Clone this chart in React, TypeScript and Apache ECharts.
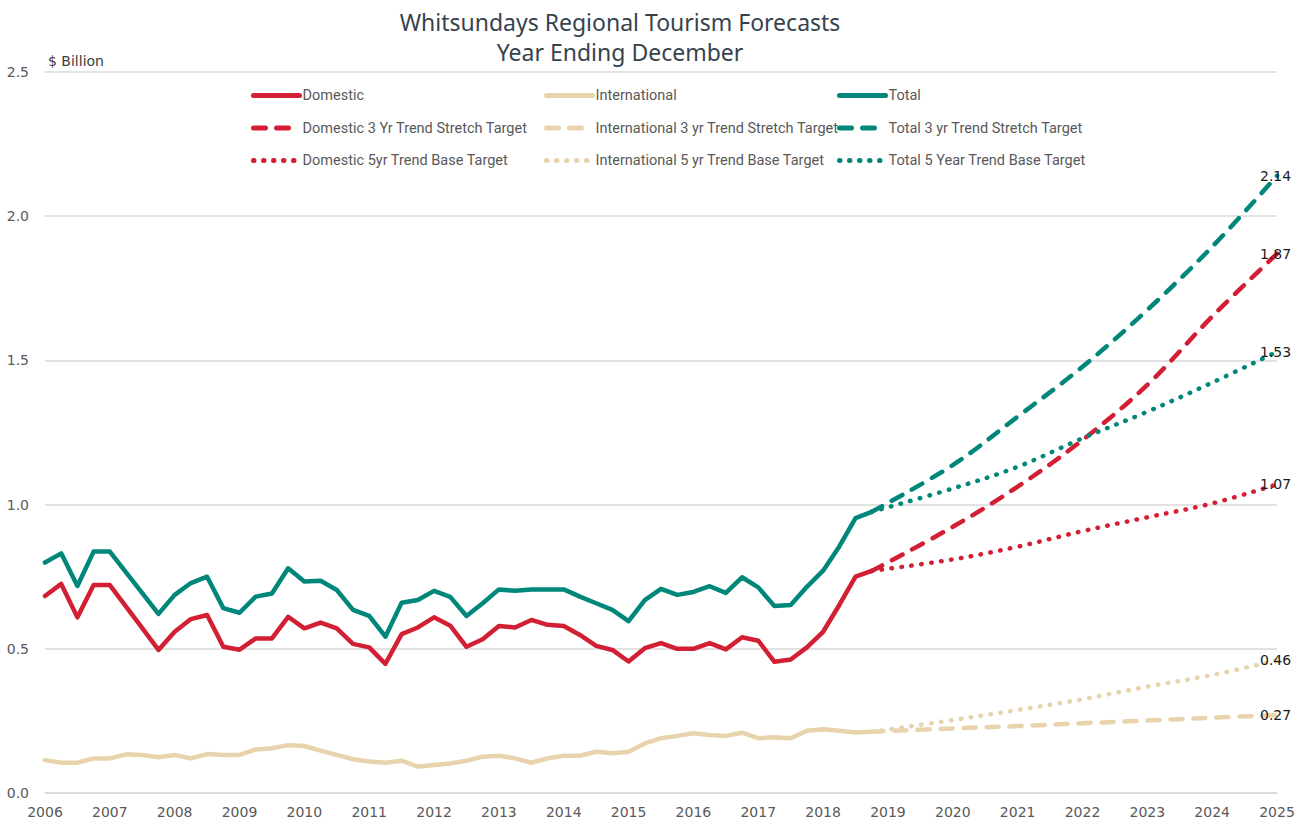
import React, { useEffect, useRef } from "react";
import * as echarts from "echarts";

// ---- tick labels / categories ----
const years = [
  "2006", "2007", "2008", "2009", "2010", "2011", "2012", "2013", "2014", "2015",
  "2016", "2017", "2018", "2019", "2020", "2021", "2022", "2023", "2024", "2025",
];
const quarters = ["Q1", "Q2", "Q3", "Q4"];
const yTicks = [0, 0.5, 1.0, 1.5, 2.0, 2.5];

// ---- actual series (quarterly, from 2006 Q1) ----
const domestic = [
  0.683, 0.725, 0.609, 0.721, 0.721, 0.646, 0.572, 0.496, 0.559, 0.603, 0.617, 0.507, 0.497,
  0.536, 0.536, 0.611, 0.571, 0.591, 0.571, 0.517, 0.505, 0.448, 0.551, 0.574, 0.609, 0.58,
  0.507, 0.533, 0.579, 0.574, 0.6, 0.583, 0.579, 0.548, 0.51, 0.496, 0.456,
  0.502, 0.52, 0.5, 0.5, 0.52, 0.498, 0.54, 0.528, 0.455, 0.463, 0.505, 0.559, 0.652, 0.75, 0.77,
];
const international = [
  0.114, 0.105, 0.105, 0.12, 0.12, 0.134, 0.132, 0.124, 0.132, 0.12, 0.135, 0.132, 0.132,
  0.151, 0.155, 0.166, 0.163, 0.147, 0.132, 0.117, 0.109, 0.105, 0.112, 0.091, 0.097, 0.102,
  0.112, 0.126, 0.129, 0.12, 0.105, 0.12, 0.129, 0.129, 0.143, 0.138, 0.143,
  0.172, 0.19, 0.198, 0.207, 0.201, 0.198, 0.209, 0.19, 0.193, 0.19, 0.216, 0.221, 0.216, 0.21, 0.212,
];
const total = [
  0.799, 0.831, 0.718, 0.837, 0.837, 0.765, 0.693, 0.621, 0.687, 0.728, 0.75, 0.641, 0.625,
  0.681, 0.692, 0.779, 0.733, 0.736, 0.704, 0.635, 0.614, 0.542, 0.66, 0.669, 0.701, 0.68,
  0.614, 0.658, 0.706, 0.701, 0.706, 0.706, 0.706, 0.681, 0.658, 0.635, 0.596,
  0.669, 0.708, 0.687, 0.697, 0.717, 0.694, 0.748, 0.713, 0.648, 0.652, 0.715, 0.771, 0.855, 0.953, 0.975,
];

// ---- forecast series (points at these quarters) ----
const forecastQuarters = ["2018 Q4", "2020 Q1", "2021 Q1", "2022 Q1", "2023 Q1", "2024 Q1", "2025 Q1"];
const domStretch = [0.77, 0.923, 1.062, 1.224, 1.415, 1.652, 1.87];
const domBase = [0.77, 0.81, 0.854, 0.908, 0.956, 1.004, 1.07];
const intlStretch = [0.212, 0.224, 0.232, 0.242, 0.251, 0.261, 0.27];
const intlBase = [0.212, 0.253, 0.288, 0.325, 0.369, 0.409, 0.46];
const totStretch = [0.975, 1.137, 1.305, 1.478, 1.675, 1.894, 2.14];
const totBase = [0.975, 1.056, 1.131, 1.23, 1.322, 1.423, 1.53];

const RED = "#D21F34";
const TAN = "#E8D3AC";
const TEAL = "#00877A";

const categories: string[] = [];
years.forEach((y, yi) => {
  quarters.forEach((q, qi) => {
    if (yi === years.length - 1 && qi > 0) return;
    categories.push(`${y} ${q}`);
  });
});

const LEG_FONT = '"Roboto", sans-serif';
const AX_FONT = '"DejaVu Sans", sans-serif';

export default function App() {
  const ref = useRef<HTMLDivElement>(null);
  useEffect(() => {
    if (!ref.current) return;
    const chart = echarts.init(ref.current, undefined, { renderer: "svg" });

    const fc = (arr: number[]) =>
      forecastQuarters.map((q, k) => [categories.indexOf(q), arr[k]]);

    const solid = (name: string, data: number[], color: string) => ({
      name,
      type: "line",
      data,
      symbol: "none",
      smooth: false,
      lineStyle: { color, width: 4.5, cap: "round", join: "round" },
      itemStyle: { color },
    });
    const fore = (name: string, arr: number[], color: string, kind: "dash" | "dot") => ({
      name,
      type: "line",
      data: fc(arr),
      symbol: "none",
      smooth: 0.35,
      lineStyle: {
        color,
        width: 4.5,
        type: kind === "dash" ? [12, 11] : [0.5, 9.5],
        cap: "round",
      },
      itemStyle: { color },
      endLabel: {
        show: true,
        formatter: (p: any) => Number(p.value[1]).toFixed(2),
        offset: [-25, 0],
        color: "#1a1a1a",
        fontSize: 14,
        fontFamily: AX_FONT,
      },
    });

    const legendCol = (left: number, names: string[]) => ({
      orient: "vertical",
      left,
      top: 83,
      itemWidth: 46,
      itemHeight: 14,
      itemGap: 17.5,
      data: names,
      selectedMode: false,
      itemStyle: { opacity: 0 },
      lineStyle: { width: 5, cap: "round" },
      textStyle: { color: "#595959", fontSize: 14.5, fontFamily: LEG_FONT, padding: [0, 0, 0, -2] },
    });

    chart.setOption({
      animation: false,
      backgroundColor: "#ffffff",
      title: {
        text: "Whitsundays Regional Tourism Forecasts\nYear Ending December",
        left: 615,
        textAlign: "center",
        top: 2,
        textStyle: {
          color: "#36434d",
          fontSize: 23,
          fontWeight: "normal",
          lineHeight: 30,
          fontFamily: '"Noto Sans", sans-serif',
        },
      },
      legend: [
        legendCol(246, ["Domestic", "Domestic 3 Yr Trend Stretch Target", "Domestic 5yr Trend Base Target"]),
        legendCol(539, [
          "International",
          "International 3 yr Trend Stretch Target",
          "International 5 yr Trend Base Target",
        ]),
        legendCol(832, ["Total", "Total 3 yr Trend Stretch Target", "Total 5 Year Trend Base Target"]),
      ],
      graphic: [
        {
          type: "text",
          left: 48,
          top: 54,
          style: { text: "$ Billion", fill: "#404040", fontSize: 14, fontFamily: AX_FONT },
        },
      ],
      grid: { left: 45, right: 28, top: 72, bottom: 32, containLabel: false },
      xAxis: {
        type: "category",
        data: categories,
        boundaryGap: false,
        axisLine: { show: true, lineStyle: { color: "#d9d9d9", width: 1.5 } },
        axisTick: { show: false },
        axisLabel: {
          interval: 3,
          formatter: (v: string) => v.slice(0, 4),
          color: "#595959",
          fontSize: 14,
          fontFamily: AX_FONT,
          margin: 12,
        },
        splitLine: { show: false },
      },
      yAxis: {
        type: "value",
        min: yTicks[0],
        max: yTicks[yTicks.length - 1],
        interval: 0.5,
        axisLine: { show: false },
        axisTick: { show: false },
        axisLabel: {
          formatter: (v: number) => v.toFixed(1),
          color: "#595959",
          fontSize: 14,
          fontFamily: AX_FONT,
          margin: 16,
        },
        splitLine: { lineStyle: { color: "#d9d9d9", width: 1.5 } },
      },
      series: [
        solid("Domestic", domestic, RED),
        solid("International", international, TAN),
        solid("Total", total, TEAL),
        fore("Domestic 3 Yr Trend Stretch Target", domStretch, RED, "dash"),
        fore("International 3 yr Trend Stretch Target", intlStretch, TAN, "dash"),
        fore("Total 3 yr Trend Stretch Target", totStretch, TEAL, "dash"),
        fore("Domestic 5yr Trend Base Target", domBase, RED, "dot"),
        fore("International 5 yr Trend Base Target", intlBase, TAN, "dot"),
        fore("Total 5 Year Trend Base Target", totBase, TEAL, "dot"),
      ],
    });
    return () => chart.dispose();
  }, []);
  return (
    <div
      ref={ref}
      style={{ position: "absolute", left: 0, top: 0, width: 1305, height: 825, background: "#fff" }}
    />
  );
}
